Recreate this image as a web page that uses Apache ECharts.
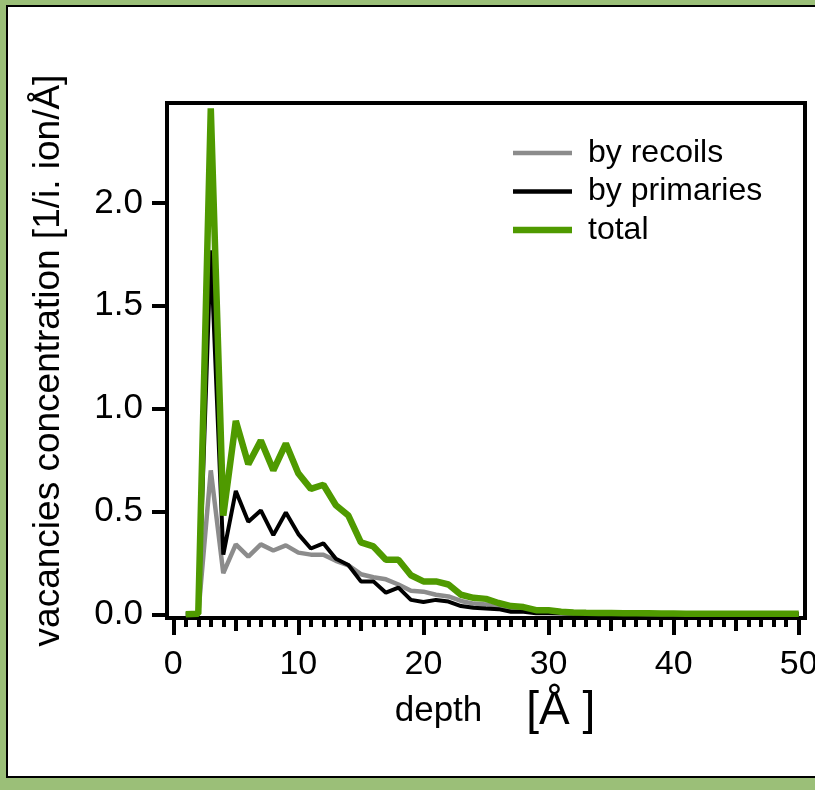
<!DOCTYPE html>
<html>
<head>
<meta charset="utf-8">
<script src="https://cdn.jsdelivr.net/npm/echarts@6/dist/echarts.min.js"></script>
<style>
  html, body { margin: 0; padding: 0; width: 815px; height: 790px; overflow: hidden; background: #9bbf78; }
  #frame { position: absolute; left: 6px; top: 5px; width: 1000px; height: 769px; background: #fff; border: 2px solid #000; }
  #chart { position: absolute; left: 0; top: 0; width: 815px; height: 790px; }
</style>
</head>
<body>
<div id="frame"></div>
<div id="chart"></div>
<script>
const depth = [1,2,3,4,5,6,7,8,9,10,11,12,13,14,15,16,17,18,19,20,21,22,23,24,25,26,27,28,29,30,31,32,33,34,35,36,37,38,39,40,41,42,43,44,45,46,47,48,49,50];
const byRecoils = [0,0,0.70,0.20,0.34,0.28,0.34,0.31,0.335,0.30,0.29,0.29,0.26,0.238,0.195,0.18,0.17,0.145,0.115,0.11,0.095,0.087,0.065,0.052,0.048,0.032,0.018,0.018,0.01,0.01,0.008,0.006,0.005,0.004,0.004,0.003,0.003,0.002,0.002,0.002,0.002,0.001,0.001,0.001,0.001,0.001,0.001,0.001,0.001,0.001];
const byPrimaries = [0,0,1.77,0.29,0.60,0.45,0.505,0.385,0.495,0.39,0.32,0.345,0.27,0.24,0.16,0.16,0.105,0.13,0.07,0.06,0.07,0.062,0.04,0.032,0.028,0.025,0.012,0.012,0.005,0.005,0.004,0.003,0.002,0.002,0.002,0.001,0.001,0.001,0.001,0.001,0.001,0.001,0.001,0.001,0.001,0.001,0.001,0.001,0.001,0.001];
const total = [0,0.003,2.46,0.48,0.94,0.73,0.845,0.70,0.83,0.685,0.61,0.63,0.53,0.48,0.35,0.33,0.265,0.265,0.19,0.16,0.16,0.145,0.095,0.08,0.075,0.055,0.04,0.035,0.02,0.02,0.012,0.009,0.007,0.006,0.006,0.005,0.005,0.005,0.004,0.004,0.003,0.003,0.003,0.003,0.003,0.003,0.003,0.003,0.003,0.003];
const xMajorTicks = [0,10,20,30,40,50];
const xMidTicks = [5,15,25,35,45];
const xMinorTicks = [1,2,3,4,6,7,8,9,11,12,13,14,16,17,18,19,21,22,23,24,26,27,28,29,31,32,33,34,36,37,38,39,41,42,43,44,46,47,48,49];
const yTicks = [0,0.5,1.0,1.5,2.0];
const seriesNames = ['by recoils','by primaries','total'];

const FONT = '"Liberation Sans", Arial, sans-serif';
const pairs = arr => depth.map((d, i) => [d, arr[i]]);

const baseX = {
  type: 'value', min: -0.5, max: 50.5, position: 'bottom', gridIndex: 0,
  splitLine: { show: false }
};

const chart = echarts.init(document.getElementById('chart'), null, { renderer: 'canvas' });
chart.setOption({
  backgroundColor: 'transparent',
  animation: false,
  grid: { left: 167, top: 103, right: 10, bottom: 172, show: true, borderColor: '#000', borderWidth: 4,
    backgroundColor: 'transparent', containLabel: false, outerBoundsMode: 'none' },
  legend: {
    orient: 'vertical', left: 513, top: 137, padding: 0, itemGap: 6.5,
    itemWidth: 59, itemHeight: 7, symbolKeepAspect: true,
    textStyle: { fontFamily: FONT, fontSize: 32, color: '#000', lineHeight: 31, padding: [0, 0, 0, 11] },
    data: [
      { name: seriesNames[0], icon: 'path://M0,0H59V4.5H0Z' },
      { name: seriesNames[1], icon: 'path://M0,0H59V4.5H0Z' },
      { name: seriesNames[2], icon: 'path://M0,0H59V6.5H0Z' }
    ]
  },
  xAxis: [
    Object.assign({}, baseX, {
      axisLine: { show: true, onZero: false, lineStyle: { color: '#000', width: 4 } },
      axisTick: { show: true, customValues: xMajorTicks, length: 17, lineStyle: { color: '#000', width: 4 } },
      axisLabel: { show: true, customValues: xMajorTicks, margin: 30, fontFamily: FONT, fontSize: 34, color: '#000', hideOverlap: false },
      name: '{a|depth}{b|[Å ]}',
      nameLocation: 'middle', nameGap: 70,
      nameTextStyle: {
        padding: [0, 0, 0, 18],
        rich: {
          a: { fontFamily: FONT, fontSize: 35, color: '#000', verticalAlign: 'middle' },
          b: { fontFamily: FONT, fontSize: 46, color: '#000', padding: [0, 0, 0, 44], verticalAlign: 'middle' }
        }
      }
    }),
    Object.assign({}, baseX, {
      axisLine: { show: false, onZero: false },
      axisTick: { show: true, customValues: xMidTicks, length: 13, lineStyle: { color: '#000', width: 4 } },
      axisLabel: { show: false }
    }),
    Object.assign({}, baseX, {
      axisLine: { show: false, onZero: false },
      axisTick: { show: true, customValues: xMinorTicks, length: 9, lineStyle: { color: '#000', width: 4 } },
      axisLabel: { show: false }
    })
  ],
  yAxis: {
    type: 'value', min: -0.018, max: 2.486,
    splitLine: { show: false },
    axisLine: { show: true, onZero: false, lineStyle: { color: '#000', width: 4 } },
    axisTick: { show: true, customValues: yTicks, length: 15, lineStyle: { color: '#000', width: 4 } },
    axisLabel: { show: true, customValues: yTicks, margin: 24, fontFamily: FONT, fontSize: 35, color: '#000',
      formatter: v => v.toFixed(1) },
    name: 'vacancies concentration [1/i. ion/Å]',
    nameLocation: 'middle', nameRotate: 90, nameGap: 100,
    nameTextStyle: { fontFamily: FONT, fontSize: 37, color: '#000' }
  },
  series: [
    { name: seriesNames[0], type: 'line', xAxisIndex: 0, data: pairs(byRecoils), symbol: 'none', color: '#8c8c8c',
      lineStyle: { color: '#8c8c8c', width: 4.5 }, z: 2 },
    { name: seriesNames[1], type: 'line', xAxisIndex: 0, data: pairs(byPrimaries), symbol: 'none', color: '#000000',
      lineStyle: { color: '#000000', width: 4 }, z: 3 },
    { name: seriesNames[2], type: 'line', xAxisIndex: 0, data: pairs(total), symbol: 'none', color: '#4f9a00',
      lineStyle: { color: '#4f9a00', width: 6.5 }, z: 4 }
  ]
});
</script>
</body>
</html>
